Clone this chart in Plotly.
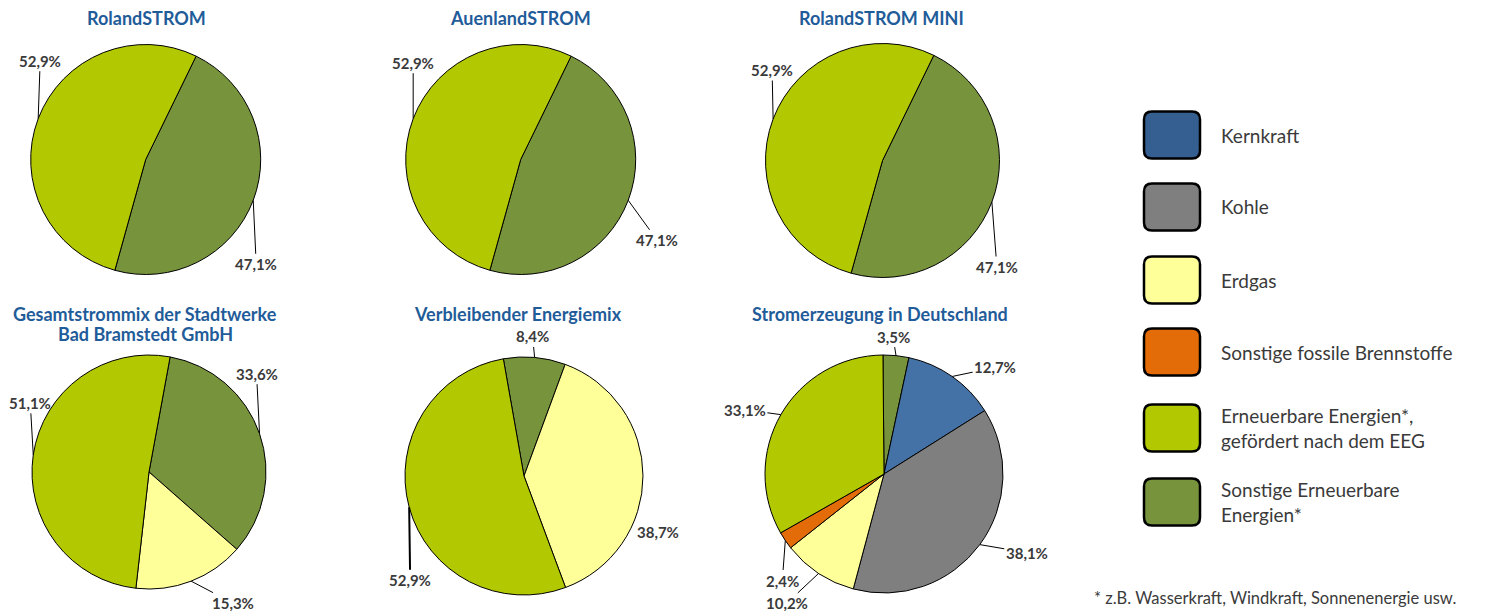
import math
import plotly.graph_objects as go

# ---------------- data ----------------
CAT_KEYS = ["kern", "kohle", "gas", "fossil", "eeg", "sonst"]
LEGEND_LABELS = [
    "Kernkraft",
    "Kohle",
    "Erdgas",
    "Sonstige fossile Brennstoffe",
    "Erneuerbare Energien*,<br>gefördert nach dem EEG",
    "Sonstige Erneuerbare<br>Energien*",
]
PIE_TITLES = [
    "RolandSTROM",
    "AuenlandSTROM",
    "RolandSTROM MINI",
    "Gesamtstrommix der Stadtwerke<br>Bad Bramstedt GmbH",
    "Verbleibender Energiemix",
    "Stromerzeugung in Deutschland",
]
SLICE_CATS = [
    ["sonst", "eeg"],
    ["sonst", "eeg"],
    ["sonst", "eeg"],
    ["sonst", "gas", "eeg"],
    ["sonst", "gas", "eeg"],
    ["sonst", "kern", "kohle", "gas", "fossil", "eeg"],
]
SLICE_VALUES = [
    [47.1, 52.9],
    [47.1, 52.9],
    [47.1, 52.9],
    [33.6, 15.3, 51.1],
    [8.4, 38.7, 52.9],
    [3.5, 12.7, 38.1, 10.2, 2.4, 33.1],
]
FOOTNOTE = "* z.B. Wasserkraft, Windkraft, Sonnenenergie usw."

# ---------------- styles / layout ----------------
W, H = 1496, 611
PIE_COLORS = {"kern": "#4472A6", "kohle": "#7F7F7F", "gas": "#FFFF99",
              "fossil": "#E36C09", "eeg": "#B2C800", "sonst": "#77933C"}
LEGEND_COLORS = {"kern": "#365F91", "kohle": "#7F7F7F", "gas": "#FFFF99",
                 "fossil": "#E36C09", "eeg": "#B2C800", "sonst": "#77933C"}
TITLE_COLOR = "#1F5C99"
TEXT_COLOR = "#3A3A3A"
FONT = "Lato, 'Open Sans', sans-serif"

# (center x px, center y px, radius px, rotation deg)
PIE_GEOM = [
    (145.7, 159.5, 115, 26),
    (520.7, 159.5, 115, 26),
    (882.5, 160.5, 117, 26),
    (149.0, 472.0, 117, 10.4),
    (524.0, 476.0, 119, -10),
    (884.0, 474.0, 119, -0.5),
]
TITLE_POS = [(146, 18), (520, 18), (881, 18), (145, 314), (518, 314), (880, 314)]
TITLE_LINE_GAP = 20
# label offset from slice mid-point on the rim (dx px, dy px, leader line width)
LABEL_OFFSETS = [
    [(3, 64, 1), (2, -58, 1)],
    [(29, 40, 1), (0, -56, 1)],
    [(5, 65, 1), (-1, -49, 1)],
    [(-3, -60, 1), (42, 22, 1), (-3, -52, 1)],
    [(-2, -21, 1), (15, 56, 0), (1, 73, 2)],
    [(-3, -19, 1), (43, -9, 1), (47, 8, 1), (-32, 30, 1), (-3, 40, 1), (-36, -5, 1)],
]
LEGEND_X0, LEGEND_X1 = 1144, 1200
LEGEND_H = 47
LEGEND_CY = [135, 207, 280, 352, 428, 502]
LEGEND_TEXT_X = 1219


def px(x):
    return x / W


def py(y):
    return 1 - y / H


def fmt(v):
    return f"{v:.1f}".replace(".", ",") + "%"


fig = go.Figure()
annotations = []
shapes = []

for i, (cats, vals) in enumerate(zip(SLICE_CATS, SLICE_VALUES)):
    cx, cy, r, rot = PIE_GEOM[i]
    fig.add_trace(go.Pie(
        labels=cats, values=vals, sort=False, direction="clockwise", rotation=rot,
        marker=dict(colors=[PIE_COLORS[c] for c in cats], line=dict(color="#000000", width=1)),
        textinfo="none", hoverinfo="label+percent", showlegend=False,
        domain=dict(x=[px(cx - r), px(cx + r)], y=[py(cy + r), py(cy - r)]),
    ))
    # labels with leader lines, anchored at slice mid-angle on the rim
    total = sum(vals)
    start = rot
    for j, v in enumerate(vals):
        span = v / total * 360
        mid = math.radians(start + span / 2)
        start += span
        ax_x = cx + r * math.sin(mid)
        ax_y = cy - r * math.cos(mid)
        dx, dy, lw = LABEL_OFFSETS[i][j]
        annotations.append(dict(
            x=px(ax_x), y=py(ax_y), xref="paper", yref="paper",
            ax=dx, ay=dy, axref="pixel", ayref="pixel",
            text=f"<b>{fmt(v)}</b>", showarrow=True, arrowhead=0,
            arrowwidth=max(lw, 0.1), arrowcolor="#000000" if lw else "rgba(0,0,0,0)",
            standoff=0, startstandoff=0,
            font=dict(family=FONT, size=15, color=TEXT_COLOR),
        ))
    tx, ty = TITLE_POS[i]
    for n, line in enumerate(PIE_TITLES[i].split("<br>")):
        annotations.append(dict(
            x=px(tx), y=py(ty + n * TITLE_LINE_GAP), xref="paper", yref="paper", showarrow=False,
            text="<b>" + line + "</b>",
            font=dict(family=FONT, size=18, color=TITLE_COLOR),
            xanchor="center", yanchor="middle",
        ))

# legend swatches (rounded rectangles) and texts
rad = 8
for k, key in enumerate(CAT_KEYS):
    cyl = LEGEND_CY[k]
    x0, x1 = LEGEND_X0, LEGEND_X1
    y0, y1 = cyl - LEGEND_H / 2, cyl + LEGEND_H / 2
    pts = [
        ("M", x0 + rad, y0), ("L", x1 - rad, y0), ("Q", x1, y0, x1, y0 + rad),
        ("L", x1, y1 - rad), ("Q", x1, y1, x1 - rad, y1), ("L", x0 + rad, y1),
        ("Q", x0, y1, x0, y1 - rad), ("L", x0, y0 + rad), ("Q", x0, y0, x0 + rad, y0),
    ]
    path = ""
    for p in pts:
        cmd = p[0]
        coords = p[1:]
        s = " ".join(f"{px(coords[m]):.6f},{py(coords[m + 1]):.6f}" for m in range(0, len(coords), 2))
        path += f"{cmd}{s} "
    path += "Z"
    shapes.append(dict(type="path", path=path, xref="paper", yref="paper",
                       fillcolor=LEGEND_COLORS[key], line=dict(color="#000000", width=2.5)))
    annotations.append(dict(
        x=px(LEGEND_TEXT_X), y=py(cyl), xref="paper", yref="paper", showarrow=False,
        text=LEGEND_LABELS[k], align="left", xanchor="left", yanchor="middle",
        font=dict(family=FONT, size=19, color=TEXT_COLOR),
    ))

annotations.append(dict(
    x=px(1092), y=py(598), xref="paper", yref="paper", showarrow=False,
    text=FOOTNOTE, xanchor="left", yanchor="middle",
    font=dict(family=FONT, size=16.5, color=TEXT_COLOR),
))

fig.update_layout(
    width=W, height=H, margin=dict(l=0, r=0, t=0, b=0),
    paper_bgcolor="white", plot_bgcolor="white",
    annotations=annotations, shapes=shapes, showlegend=False,
)

fig.write_html("out.html", config={"displayModeBar": False},
               post_script="document.body.style.margin='0';document.body.style.overflow='hidden';")
